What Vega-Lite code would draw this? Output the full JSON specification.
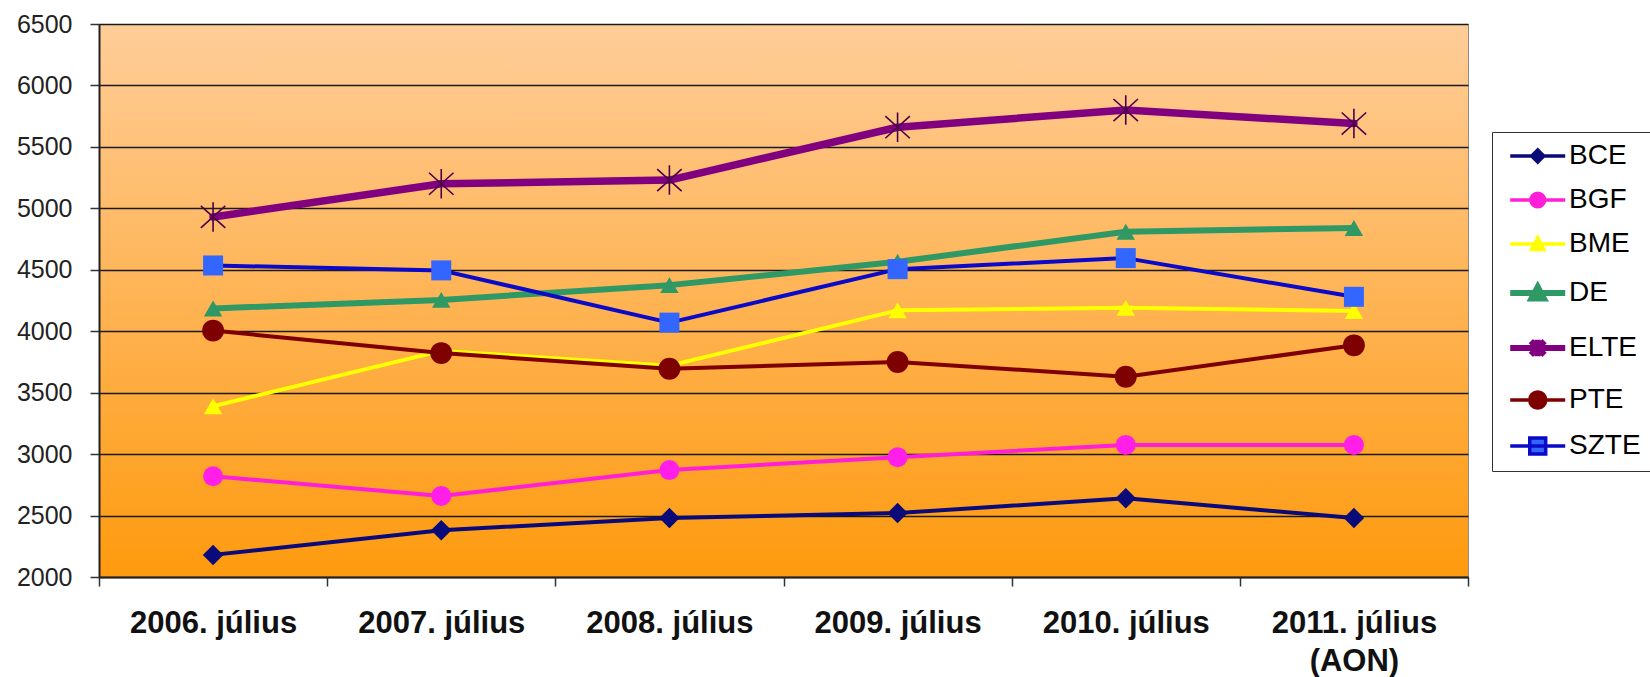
{
  "$schema": "https://vega.github.io/schema/vega-lite/v6.json",
  "width": 1369,
  "height": 553,
  "autosize": {"type": "none"},
  "padding": {"left": 99, "top": 24, "right": 182, "bottom": 100},
  "background": "white",
  "config": {
    "view": {
      "stroke": "#8a8a8a",
      "strokeWidth": 1,
      "fill": {"gradient": "linear", "x1": 0, "y1": 0, "x2": 0, "y2": 1, "stops": [{"offset": 0, "color": "#FFCD99"}, {"offset": 1, "color": "#FE9A0E"}]}
    },
    "font": "Liberation Sans"
  },
  "data": {"values": [
    {"year": "2006. július", "series": "BCE", "value": 2180},
    {"year": "2007. július", "series": "BCE", "value": 2380},
    {"year": "2008. július", "series": "BCE", "value": 2480},
    {"year": "2009. július", "series": "BCE", "value": 2520},
    {"year": "2010. július", "series": "BCE", "value": 2640},
    {"year": "2011. július (AON)", "series": "BCE", "value": 2480},
    {"year": "2006. július", "series": "BGF", "value": 2820},
    {"year": "2007. július", "series": "BGF", "value": 2660},
    {"year": "2008. július", "series": "BGF", "value": 2870},
    {"year": "2009. július", "series": "BGF", "value": 2975},
    {"year": "2010. július", "series": "BGF", "value": 3075},
    {"year": "2011. július (AON)", "series": "BGF", "value": 3075},
    {"year": "2006. július", "series": "BME", "value": 3390},
    {"year": "2007. július", "series": "BME", "value": 3840},
    {"year": "2008. július", "series": "BME", "value": 3720},
    {"year": "2009. július", "series": "BME", "value": 4170},
    {"year": "2010. július", "series": "BME", "value": 4190},
    {"year": "2011. július (AON)", "series": "BME", "value": 4165},
    {"year": "2006. július", "series": "DE", "value": 4185},
    {"year": "2007. július", "series": "DE", "value": 4255},
    {"year": "2008. július", "series": "DE", "value": 4375},
    {"year": "2009. július", "series": "DE", "value": 4565},
    {"year": "2010. július", "series": "DE", "value": 4810},
    {"year": "2011. július (AON)", "series": "DE", "value": 4840},
    {"year": "2006. július", "series": "ELTE", "value": 4930},
    {"year": "2007. július", "series": "ELTE", "value": 5200},
    {"year": "2008. július", "series": "ELTE", "value": 5230},
    {"year": "2009. július", "series": "ELTE", "value": 5660},
    {"year": "2010. július", "series": "ELTE", "value": 5800},
    {"year": "2011. július (AON)", "series": "ELTE", "value": 5690},
    {"year": "2006. július", "series": "PTE", "value": 4005},
    {"year": "2007. július", "series": "PTE", "value": 3822},
    {"year": "2008. július", "series": "PTE", "value": 3695},
    {"year": "2009. július", "series": "PTE", "value": 3750},
    {"year": "2010. július", "series": "PTE", "value": 3630},
    {"year": "2011. július (AON)", "series": "PTE", "value": 3885},
    {"year": "2006. július", "series": "SZTE", "value": 4535},
    {"year": "2007. július", "series": "SZTE", "value": 4495},
    {"year": "2008. július", "series": "SZTE", "value": 4070},
    {"year": "2009. július", "series": "SZTE", "value": 4505},
    {"year": "2010. július", "series": "SZTE", "value": 4595},
    {"year": "2011. július (AON)", "series": "SZTE", "value": 4280}
  ]},
  "encoding": {
    "x": {
      "field": "year", "type": "nominal", "sort": null,
      "scale": {"type": "band", "paddingInner": 0, "paddingOuter": 0},
      "axis": {
        "title": null, "labelAngle": 0, "tickBand": "extent",
        "labelFont": "Liberation Sans", "labelFontSize": 31, "labelFontWeight": "bold", "labelColor": "#111111",
        "labelPadding": 22, "labelLineHeight": 38,
        "labelExpr": "datum.value === '2011. július (AON)' ? ['2011. július', '(AON)'] : datum.value",
        "tickSize": 9, "tickColor": "#333333", "tickWidth": 1.5,
        "domainColor": "#222222", "domainWidth": 2, "grid": false
      }
    },
    "y": {
      "field": "value", "type": "quantitative",
      "scale": {"domain": [2000, 6500], "nice": false, "zero": false},
      "axis": {
        "title": null, "values": [2000, 2500, 3000, 3500, 4000, 4500, 5000, 5500, 6000, 6500], "format": "d",
        "labelFont": "Liberation Sans", "labelFontSize": 25, "labelColor": "#222222", "labelPadding": 18,
        "tickSize": 9, "tickColor": "#333333", "tickWidth": 1.5,
        "domainColor": "#222222", "domainWidth": 2,
        "grid": true, "gridColor": "#1a1a1a", "gridWidth": 1.3
      }
    }
  },
  "layer": [
    {
      "mark": {"type": "line", "strokeJoin": "round", "strokeCap": "round"},
      "encoding": {
        "color": {
          "field": "series", "type": "nominal",
          "scale": {"domain": ["BCE", "BGF", "BME", "DE", "ELTE", "PTE", "SZTE"], "range": ["#0A0A78", "#FF1FD8", "#FFFF00", "#2E9964", "#800080", "#7E0000", "#0A0AC8"]},
          "legend": {
            "orient": "none", "legendX": 1393, "legendY": 108, "title": null,
            "strokeColor": "#333333", "fillColor": "white", "padding": 10,
            "labelFont": "Liberation Sans", "labelFontSize": 28, "labelColor": "#000000",
            "symbolSize": 756, "rowPadding": 16, "labelOffset": 39,
            "encode": {
              "symbols": {
                "update": {
                  "shape": {"signal": "datum.value === 'BCE' ? 'M-0.42,0H3.58M1.58,-0.44L2.02,0L1.58,0.44L1.14,0Z' : datum.value === 'BGF' ? 'M-0.42,0H3.58M1.08,0A0.5,0.5,0,1,0,2.08,0A0.5,0.5,0,1,0,1.08,0Z' : datum.value === 'BME' || datum.value === 'DE' ? 'M-0.42,0H3.58M1.58,-0.45L2.03,0.4L1.13,0.4Z' : datum.value === 'ELTE' ? 'M-0.42,0H3.58M1.08,-0.5L2.08,0.5M1.08,0.5L2.08,-0.5M1.58,-0.6V0.6' : datum.value === 'PTE' ? 'M-0.42,0H3.58M1.0,0A0.58,0.58,0,1,0,2.16,0A0.58,0.58,0,1,0,1.0,0Z' : 'M-0.42,0H3.58M1.0,-0.58H2.16V0.58H1.0Z'"},
                  "stroke": {"signal": "scale('color', datum.value)"},
                  "fill": {"signal": "datum.value === 'SZTE' ? '#3366FF' : scale('color', datum.value)"},
                  "strokeWidth": {"signal": "datum.value === 'ELTE' || datum.value === 'DE' ? 6 : 3.5"},
                  "size": {"value": 756},
                  "opacity": {"value": 1}
                }
              }
            }
          }
        },
        "strokeWidth": {
          "condition": [
            {"test": "datum.series === 'ELTE'", "value": 7.5},
            {"test": "datum.series === 'DE'", "value": 6}
          ],
          "value": 4
        }
      }
    },
    {
      "transform": [{"filter": "datum.series !== 'ELTE'"}],
      "mark": {"type": "point", "filled": true, "opacity": 1},
      "encoding": {
        "shape": {
          "field": "series", "type": "nominal", "legend": null,
          "scale": {"domain": ["BCE", "BGF", "BME", "DE", "PTE", "SZTE"], "range": ["diamond", "circle", "triangle-up", "triangle-up", "circle", "square"]}
        },
        "fill": {
          "field": "series", "type": "nominal", "legend": null,
          "scale": {"domain": ["BCE", "BGF", "BME", "DE", "PTE", "SZTE"], "range": ["#0A0A78", "#FF1FE8", "#FFFF00", "#2E9964", "#7E0000", "#3366FF"]}
        },
        "size": {
          "condition": [
            {"test": "datum.series === 'PTE'", "value": 480},
            {"test": "datum.series === 'BME' || datum.series === 'DE'", "value": 340},
            {"test": "datum.series === 'BCE'", "value": 420}
          ],
          "value": 400
        }
      }
    },
    {
      "transform": [{"filter": "datum.series === 'ELTE'"}],
      "mark": {
        "type": "point", "filled": false, "opacity": 1, "strokeWidth": 1.6, "color": "#4A004A",
        "shape": "M-1,-0.9L1,0.9M-1,0.9L1,-0.9M0,-1.2V1.2", "size": 600
      },
      "encoding": {}
    }
  ]
}
